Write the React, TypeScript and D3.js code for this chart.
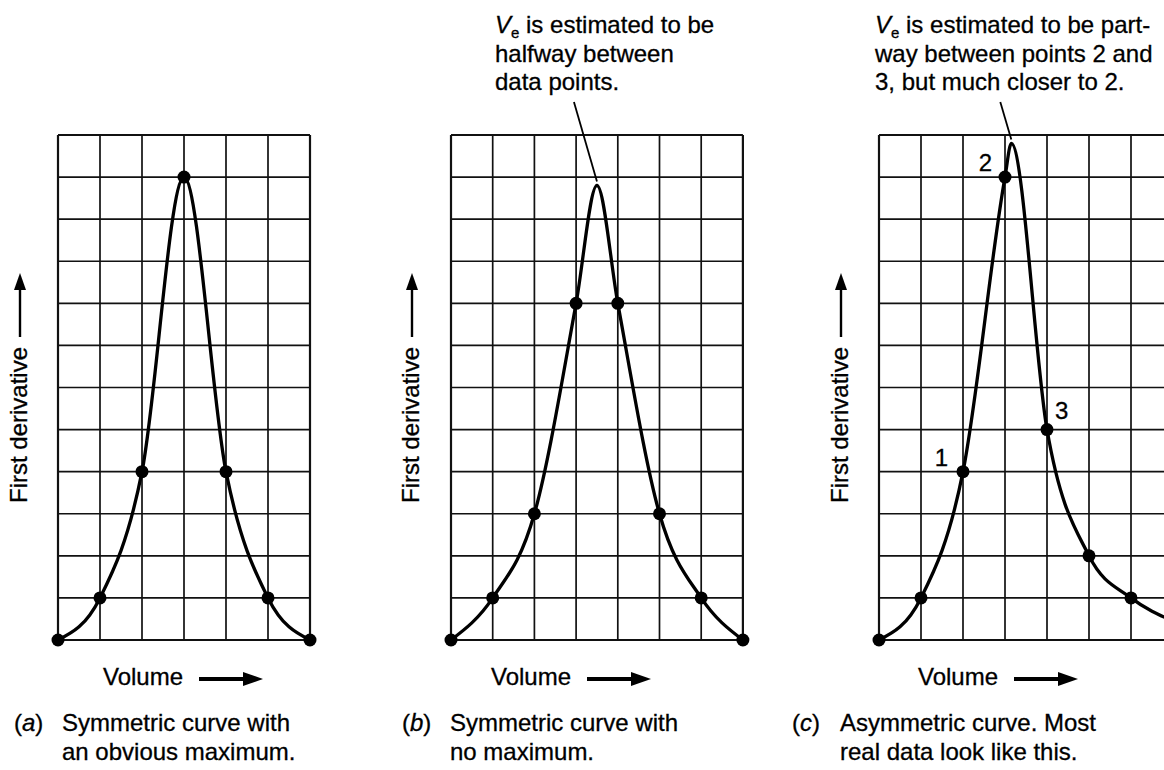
import React from "react";
import * as d3 from "d3";

// ---------- data ----------
const markersA = [0, 1, 4, 11, 4, 1, 0];
const curveA: [number, number][] = [[0, 0], [1, 1], [2, 4], [3, 11], [4, 4], [5, 1], [6, 0]];

const markersB = [0, 1, 3, 8, 8, 3, 1, 0];
const curveB: [number, number][] = [[0, 0], [1, 1], [2, 3], [3, 8], [3.5, 10.8], [4, 8], [5, 3], [6, 1], [7, 0]];

const markersC = [0, 1, 4, 11, 5, 2, 1];
const curveC: [number, number][] = [[0, 0], [1, 1], [2, 4], [3, 11], [3.15, 11.8], [4, 5], [5, 2], [6, 1], [7, 0.45]];
const labelsC = [{ i: 2, t: "1" }, { i: 3, t: "2" }, { i: 4, t: "3" }];

const rows = 12;
const colsA = 6;
const colsB = 7;
const colsC = 7;

const yLabel = "First derivative";
const xLabel = "Volume";
const captionA = ["a", "Symmetric curve with", "an obvious maximum."];
const captionB = ["b", "Symmetric curve with", "no maximum."];
const captionC = ["c", "Asymmetric curve. Most", "real data look like this."];
const noteB = ["is estimated to be", "halfway between", "data points."];
const noteC = ["is estimated to be part-", "way between points 2 and", "3, but much closer to 2."];

const FONT = "'Liberation Sans', Arial, Helvetica, sans-serif";
const FS = 24;
const txt = { fontFamily: FONT, fontSize: FS, fill: "#000", stroke: "#000", strokeWidth: 0.3 };

type PanelProps = {
  left: number;
  cols: number;
  cell: number;
  markers: number[];
  curve: [number, number][];
  labelX: number;
  volX: number;
  caption: string[];
  capX: number;
  note?: string[];
  noteX?: number;
  leader?: [number, number];
  leaderDx?: number;
  numbered?: { i: number; t: string }[];
};

const TOP = 135;
const BOTTOM = 640;

function Panel(p: PanelProps) {
  const x = d3.scaleLinear().domain([0, p.cols]).range([p.left, p.left + p.cols * p.cell]);
  const y = d3.scaleLinear().domain([0, rows]).range([BOTTOM, TOP]);
  const line = d3
    .line<[number, number]>()
    .x((d) => x(d[0]))
    .y((d) => y(d[1]))
    .curve(d3.curveMonotoneX);
  const vcols = d3.range(0, p.cols + 1);
  const hrows = d3.range(0, rows + 1);
  const labelCy = 390;
  const numPos: Record<string, { dx: number; dy: number; anchor: string }> = {
    "1": { dx: -15, dy: -6, anchor: "end" },
    "2": { dx: -13, dy: -6, anchor: "end" },
    "3": { dx: 8, dy: -11, anchor: "start" },
  };
  return (
    <g>
      {/* grid */}
      {vcols.map((c) => (
        <line key={"v" + c} x1={x(c)} x2={x(c)} y1={y(0)} y2={y(rows)} stroke="#111" strokeWidth={c === 0 || c === p.cols ? 2.2 : 1.7} />
      ))}
      {hrows.map((r) => (
        <line key={"h" + r} x1={x(0)} x2={x(p.cols)} y1={y(r)} y2={y(r)} stroke="#111" strokeWidth={r === 0 || r === rows ? 2.2 : 1.7} />
      ))}
      {/* curve */}
      <path d={line(p.curve) || ""} fill="none" stroke="#000" strokeWidth={3.3} />
      {p.markers.map((v, i) => (
        <circle key={"m" + i} cx={x(i)} cy={y(v)} r={6.5} fill="#000" />
      ))}
      {p.numbered &&
        p.numbered.map((n) => (
          <text
            key={"n" + n.t}
            x={x(n.i) + numPos[n.t].dx}
            y={y(p.markers[n.i]) + numPos[n.t].dy}
            {...txt}
            textAnchor={numPos[n.t].anchor as any}
          >
            {n.t}
          </text>
        ))}
      {/* y label */}
      <g transform={`translate(${p.labelX},${labelCy}) rotate(-90)`}>
        <text x={-113} y={0} {...txt} dominantBaseline="middle">
          {yLabel}
        </text>
        <line x1={53} x2={104} y1={-1} y2={-1} stroke="#000" strokeWidth={2.4} />
        <path d="M 117 -1 L 100 -7 L 100 5 Z" fill="#000" />
      </g>
      {/* x label */}
      <g transform={`translate(${p.volX},679)`}>
        <text x={0} y={0} {...txt} dominantBaseline="middle">
          {xLabel}
        </text>
        <line x1={96} x2={144} y1={0} y2={0} stroke="#000" strokeWidth={3.8} />
        <path d="M 160 0 L 140 -7 L 140 7 Z" fill="#000" />
      </g>
      {/* caption */}
      <text x={p.capX} y={731} {...txt}>
        (<tspan fontStyle="italic">{p.caption[0]}</tspan>)
        <tspan x={p.capX + 48}>{p.caption[1]}</tspan>
      </text>
      <text x={p.capX + 48} y={760} {...txt}>
        {p.caption[2]}
      </text>
      {/* annotation */}
      {p.note &&
        p.note.map((t, i) => (
          <text key={"note" + i} x={p.noteX} y={33 + i * 28.5} {...txt}>
            {i === 0 ? (
              <>
                <tspan fontStyle="italic">V</tspan>
                <tspan fontSize={15} dy={5}>e</tspan>
                <tspan dy={-5}> {t}</tspan>
              </>
            ) : (
              t
            )}
          </text>
        ))}
      {p.leader && (
        <line
          x1={x(p.leader[0]) + (p.leaderDx || 0)}
          y1={102}
          x2={x(p.leader[0])}
          y2={y(p.leader[1]) - 4}
          stroke="#000"
          strokeWidth={1.8}
        />
      )}
    </g>
  );
}

export default function App() {
  return (
    <svg
      width={1164}
      height={770}
      viewBox="0 0 1164 770"
      style={{ position: "absolute", left: 0, top: 0, background: "#fff" }}
    >
      <rect width={1164} height={770} fill="#fff" />
      <Panel left={58} cols={colsA} cell={42} markers={markersA} curve={curveA} labelX={21} volX={103} caption={captionA} capX={14} />
      <Panel
        left={451}
        cols={colsB}
        cell={41.7}
        markers={markersB}
        curve={curveB}
        labelX={413}
        volX={491}
        caption={captionB}
        capX={402}
        note={noteB}
        noteX={495}
        leader={[3.5, 10.8]}
        leaderDx={-23}
      />
      <Panel
        left={879}
        cols={colsC}
        cell={42}
        markers={markersC}
        curve={curveC}
        labelX={842}
        volX={918}
        caption={captionC}
        capX={792}
        note={noteC}
        noteX={875}
        leader={[3.15, 11.8]}
        leaderDx={-11}
        numbered={labelsC}
      />
    </svg>
  );
}
